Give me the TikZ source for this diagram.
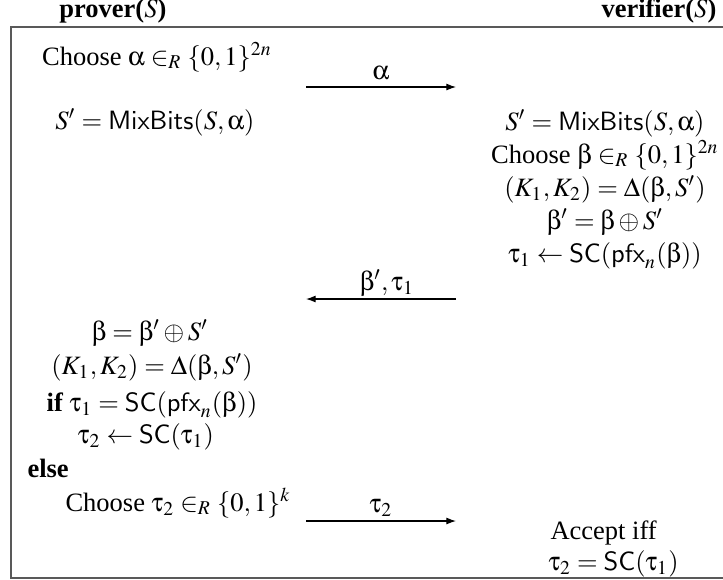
\documentclass[tikz,border=0pt]{standalone}
\usepackage{mathptmx}
\usepackage[Symbol]{upgreek}
\usepackage{fontspec}
\setmainfont{Liberation Serif}
\setsansfont{Liberation Sans}
\renewcommand{\alpha}{\upalpha}
\renewcommand{\beta}{\upbeta}
\renewcommand{\tau}{\uptau}
\usetikzlibrary{arrows.meta}
\begin{document}
\begin{tikzpicture}[x=0.3774pt,y=-0.3774pt,
  txt/.style={inner sep=0pt, anchor=base},
  txtl/.style={inner sep=0pt, anchor=base west},
  boxline/.style={draw=black!65, line width=0.5pt},
  msg/.style={-{Latex[length=3.6pt,width=2.6pt]}, line width=0.4pt}]
\useasboundingbox (0,0) rectangle (723,579);
\draw[boxline] (723,27) -- (11,27) -- (11,578) -- (723,578);
% headers
\node[txt] (ph) at (113,17) {\textbf{prover($S$)}};
\node[txt] (vh) at (659,17) {\textbf{verifier($S$)}};
% prover column
\node[txt] (l1) at (157,65) {Choose $\alpha \in_R \{0,1\}^{2n}$};
\node[txt] (l2) at (155,129) {$S' = \mathsf{MixBits}(S,\alpha)$};
\node[txt] (l3) at (150,340) {$\beta = \beta' \oplus S'$};
\node[txt] (l4) at (152,374) {$(K_1,K_2) = \Delta(\beta,S')$};
\node[txt] (l5) at (152,411) {\textbf{if} $\tau_1 = \mathsf{SC}(\mathsf{pfx}_n(\beta))$};
\node[txt] (l6) at (146,443) {$\tau_2 \leftarrow \mathsf{SC}(\tau_1)$};
\node[txtl] (l7) at (27,477) {\textbf{else}};
\node[txtl] (l8) at (65,511) {Choose $\tau_2 \in_R \{0,1\}^{k}$};
% verifier column
\node[txt] (r1) at (605,130) {$S' = \mathsf{MixBits}(S,\alpha)$};
\node[txt] (r2) at (605,163) {Choose $\beta \in_R \{0,1\}^{2n}$};
\node[txt] (r3) at (605,196) {$(K_1,K_2) = \Delta(\beta,S')$};
\node[txt] (r4) at (605,229) {$\beta' = \beta \oplus S'$};
\node[txt] (r5) at (605,262) {$\tau_1 \leftarrow \mathsf{SC}(\mathsf{pfx}_n(\beta))$};
\node[txtl] (r6) at (550,539) {Accept iff};
\node[txtl] (r7) at (548,570) {$\tau_2 = \mathsf{SC}(\tau_1)$};
% messages
\coordinate (a1s) at (306,87); \coordinate (a1e) at (456,87);
\coordinate (a2s) at (456,299); \coordinate (a2e) at (306,299);
\coordinate (a3s) at (306,521); \coordinate (a3e) at (456,521);
\draw[msg] (a1s) -- (a1e);
\draw[msg] (a2s) -- (a2e);
\draw[msg] (a3s) -- (a3e);
\node[txt] (m1) at (381,79) {$\alpha$};
\node[txt] (m2) at (387,290) {$\beta',\tau_1$};
\node[txt] (m3) at (381,512) {$\tau_2$};
\end{tikzpicture}
\end{document}
